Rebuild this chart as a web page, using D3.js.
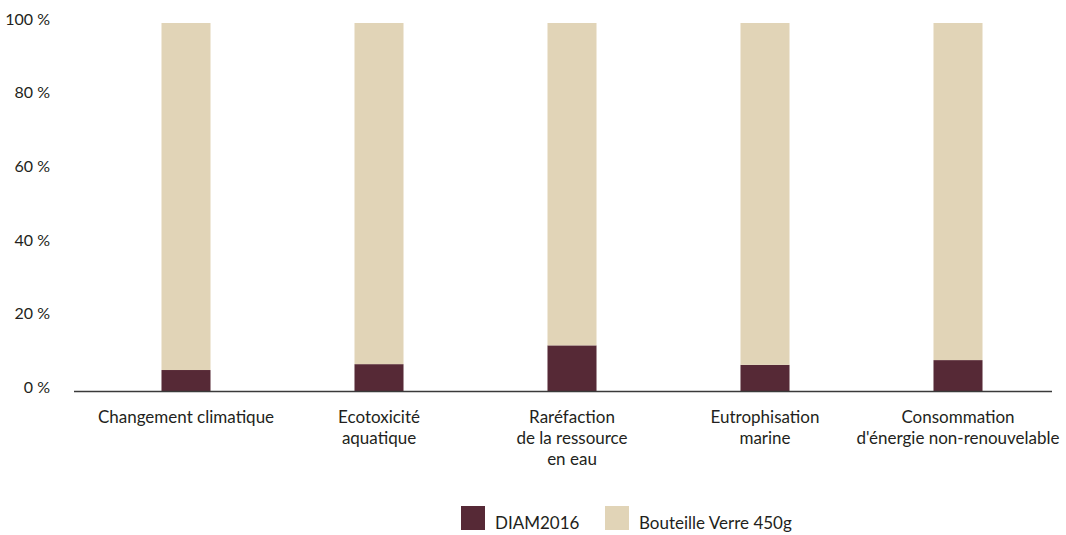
<!DOCTYPE html>
<html lang="fr">
<head>
  <meta charset="utf-8" />
  <title>Comparaison</title>
  <script src="https://cdn.jsdelivr.net/npm/d3@7"></script>
  <style>
    body { margin: 0; background: #fff; }
    text { font-family: "Lato", "Open Sans", sans-serif; fill: #231f20; }
  </style>
</head>
<body>
  <script>
    // données
    var categories = [
      ["Changement climatique"],
      ["Ecotoxicité", "aquatique"],
      ["Raréfaction", "de la ressource", "en eau"],
      ["Eutrophisation", "marine"],
      ["Consommation", "d'énergie non-renouvelable"]
    ];
    var diam = [5.7, 7.3, 12.4, 7.1, 8.4];
    var verre = diam.map(function (d) { return 100 - d; });
    var seriesNames = ["DIAM2016", "Bouteille Verre 450g"];
    var colors = ["#562936", "#e1d4b7"];
    var yTicks = [0, 20, 40, 60, 80, 100];

    var width = 1066, height = 535;
    var svg = d3.select("body").append("svg")
      .attr("width", width)
      .attr("height", height);

    var x = d3.scaleBand().domain(d3.range(categories.length)).range([89.5, 1054.5]).paddingInner(0.746).paddingOuter(0.373);
    var y = d3.scaleLinear().domain([0, 100]).range([391, 23]);

    // empilement
    var rows = categories.map(function (c, i) { return { i: i, a: diam[i], b: verre[i] }; });
    var stack = d3.stack().keys(["a", "b"])(rows);

    svg.append("g")
      .selectAll("g")
      .data(stack)
      .enter()
      .append("g")
      .attr("fill", function (d, k) { return colors[k]; })
      .selectAll("rect")
      .data(function (d) { return d; })
      .enter()
      .append("rect")
      .attr("x", function (d) { return x(d.data.i); })
      .attr("width", x.bandwidth())
      .attr("y", function (d) { return y(d[1]); })
      .attr("height", function (d) { return y(d[0]) - y(d[1]); });

    // axe Y
    var yAxis = svg.append("g")
      .attr("transform", "translate(53,0)")
      .call(d3.axisLeft(y).tickValues(yTicks).tickSize(0).tickFormat(function (d) { return d + " %"; }));
    yAxis.select(".domain").remove();
    yAxis.selectAll("text").attr("font-size", 16).attr("font-family", "Lato, sans-serif").attr("fill", "#231f20").attr("dy", "0.08em");

    // ligne de base
    svg.append("line")
      .attr("x1", 74).attr("x2", 1052)
      .attr("y1", y(0) + 0.5).attr("y2", y(0) + 0.5)
      .attr("stroke", "#3a3a3a")
      .attr("stroke-width", 1.6);

    // libellés
    var labels = svg.append("g")
      .selectAll("text")
      .data(categories)
      .enter()
      .append("text")
      .attr("text-anchor", "middle")
      .attr("font-size", 17)
      .attr("x", function (d, i) { return x(i) + x.bandwidth() / 2; })
      .attr("y", 423);
    labels.selectAll("tspan")
      .data(function (d) { return d; })
      .enter()
      .append("tspan")
      .attr("x", function () { return d3.select(this.parentNode).attr("x"); })
      .attr("dy", function (d, j) { return j === 0 ? 0 : 21; })
      .text(function (d) { return d; });

    // légende
    var legendX = [461, 605];
    var legend = svg.append("g")
      .selectAll("g")
      .data(seriesNames)
      .enter()
      .append("g")
      .attr("transform", function (d, i) { return "translate(" + legendX[i] + ",506)"; });
    legend.append("rect")
      .attr("width", 24).attr("height", 24)
      .attr("fill", function (d, i) { return colors[i]; });
    legend.append("text")
      .attr("x", 34).attr("y", 23)
      .attr("font-size", 17)
      .text(function (d) { return d; });
  </script>
</body>
</html>
